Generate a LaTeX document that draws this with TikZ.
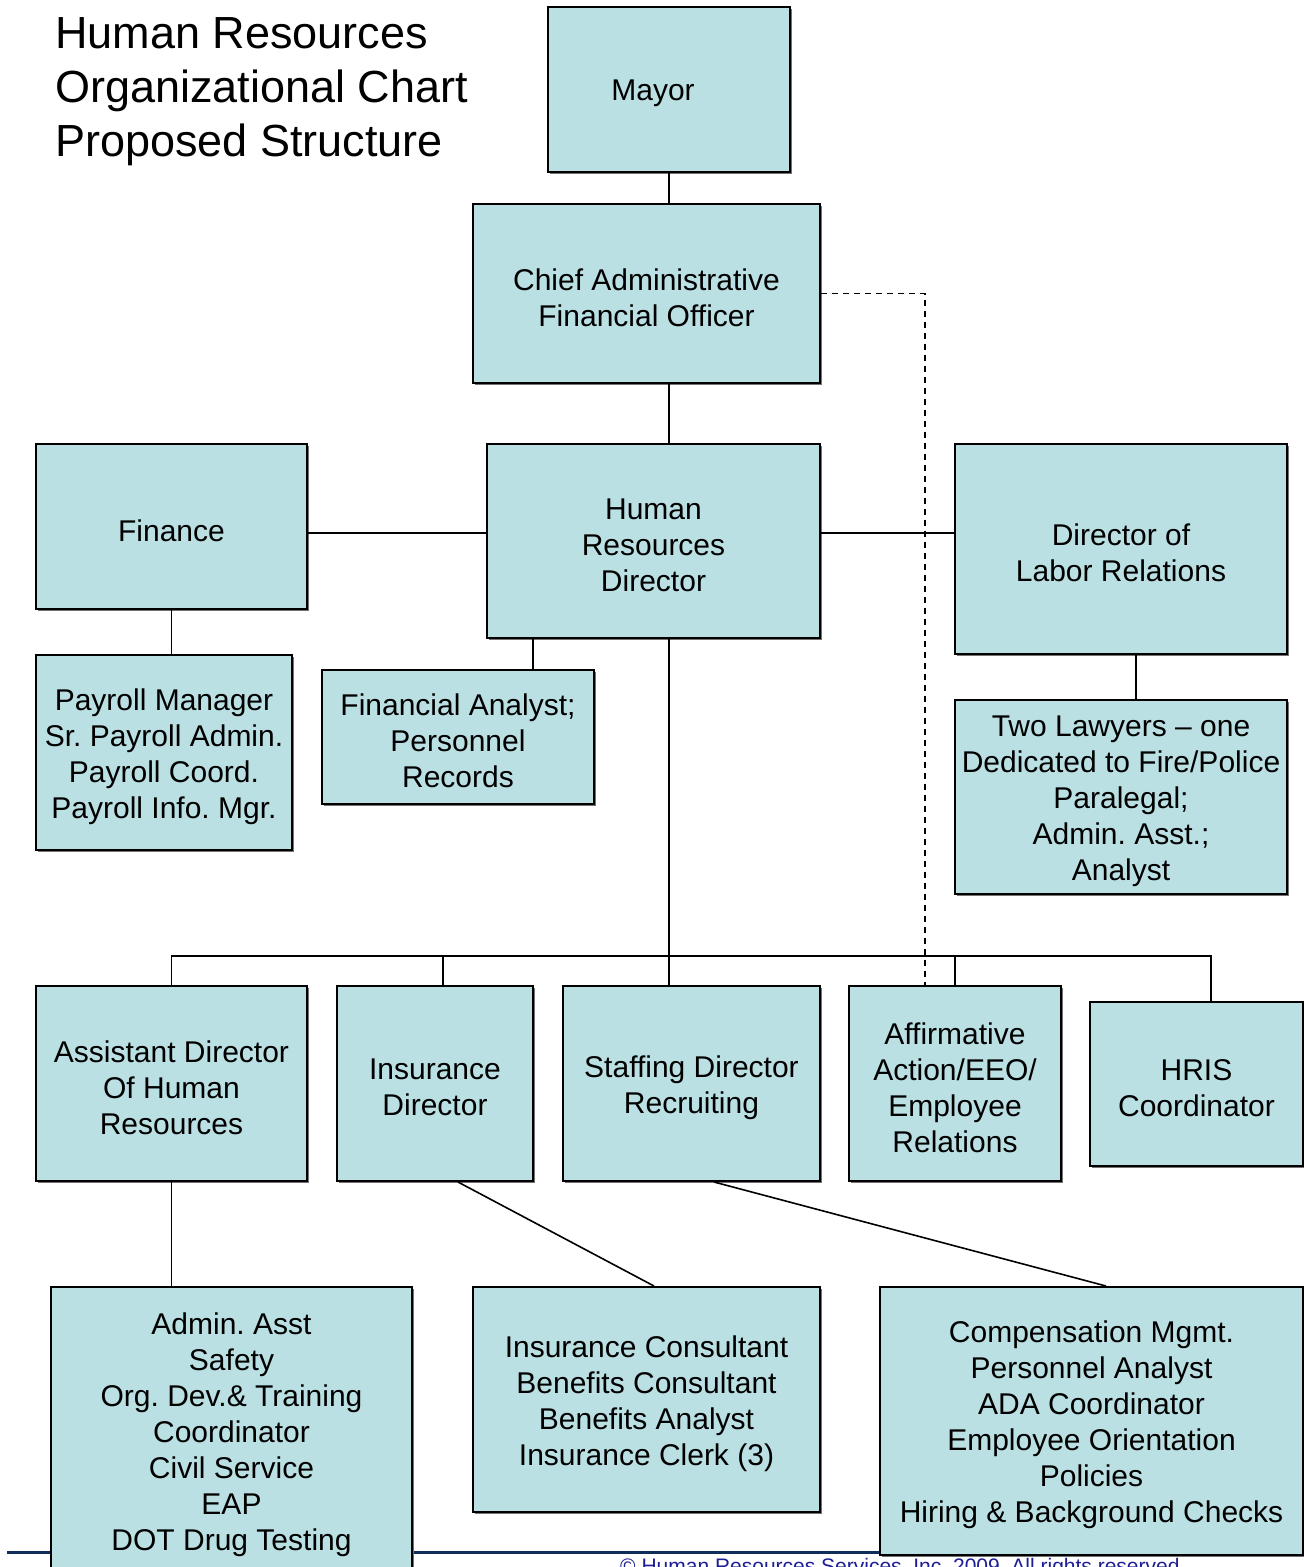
\documentclass[tikz,border=0pt]{standalone}
\usepackage{fontspec}
\setmainfont{Liberation Sans}
\usetikzlibrary{calc,shadows}
\definecolor{boxfill}{RGB}{186,224,227}
\definecolor{rulenavy}{RGB}{16,46,92}
\definecolor{notecol}{RGB}{30,30,150}
\frenchspacing
\begin{document}
\begin{tikzpicture}[x=1pt,y=-1pt,
  orgbox/.style={draw=black, line width=2pt, fill=boxfill, rectangle,
    inner sep=0pt,
    general shadow={fill=black!55, shadow xshift=1.5pt, shadow yshift=-1.5pt}},
  boxtext/.style={inner sep=0pt, align=center, yshift=-4pt,
    font=\fontsize{30}{36}\selectfont},
  link/.style={draw=black, line width=1.6pt},
  dotlink/.style={draw=black, line width=1.6pt, dashed, dash pattern=on 6pt off 5pt}]
\useasboundingbox (0,0) rectangle (1304,1567);
\clip (0,0) rectangle (1304,1567);
\fill[white] (0,0) rectangle (1304,1567);

% footer rule and copyright line
\draw[rulenavy, line width=3pt] (7,1552) -- (1304,1552);
\node[anchor=base west, inner sep=0pt, text=notecol, font=\fontsize{21}{25}\selectfont]
  (copy) at (620,1573) {\textcopyright\ Human Resources Services, Inc. 2009. All rights reserved};

% title
\node[anchor=north west, inner sep=0pt, align=left, font=\fontsize{45}{54}\selectfont]
  (title) at (55,17) {Human Resources\\Organizational Chart\\Proposed Structure};

% helper coordinates
\coordinate (spine) at (669,0);
\coordinate (midy) at (0,533);
\coordinate (bus) at (669,956);
\coordinate (fax) at (533,0);
\coordinate (labx) at (1136,0);
\coordinate (insx) at (443,0);
\coordinate (hrisx) at (1211,0);
\coordinate (dashx) at (925,0);

% boxes
\node[orgbox, minimum width=242, minimum height=165] (mayor) at (669,89.5) {};
\node[orgbox, minimum width=347, minimum height=179] (cafo) at (646.5,293.5) {};
\node[orgbox, minimum width=333, minimum height=194] (hrd) at (653.5,541) {};
\node[orgbox, minimum width=271, minimum height=165] (finance) at (171.5,526.5) {};
\node[orgbox, minimum width=332, minimum height=210] (labor) at (1121,549) {};
\node[orgbox, minimum width=256, minimum height=195] (payroll) at (164,752.5) {};
\node[orgbox, minimum width=272, minimum height=134] (fa) at (458,737) {};
\node[orgbox, minimum width=332, minimum height=194] (lawyers) at (1121,797) {};
\node[orgbox, minimum width=271, minimum height=195] (asst) at (171.5,1083.5) {};
\node[orgbox, minimum width=196, minimum height=195] (ins) at (435,1083.5) {};
\node[orgbox, minimum width=257, minimum height=195] (staff) at (691.5,1083.5) {};
\node[orgbox, minimum width=212, minimum height=195] (affirm) at (955,1083.5) {};
\node[orgbox, minimum width=213, minimum height=164] (hris) at (1196.5,1084) {};
\node[orgbox, minimum width=361, minimum height=288] (admin) at (231.5,1431) {};
\node[orgbox, minimum width=347, minimum height=225] (inscons) at (646.5,1399.5) {};
\node[orgbox, minimum width=423, minimum height=268] (comp) at (1091.5,1421) {};

% box captions
\node[boxtext] (mayorT) at ($(mayor)+(-16,0)$) {Mayor};
\node[boxtext] (cafoT) at (cafo) {Chief Administrative\\Financial Officer};
\node[boxtext] (hrdT) at (hrd) {Human\\Resources\\Director};
\node[boxtext] (financeT) at (finance) {Finance};
\node[boxtext] (laborT) at (labor) {Director of\\Labor Relations};
\node[boxtext] (payrollT) at (payroll) {Payroll Manager\\Sr. Payroll Admin.\\Payroll Coord.\\Payroll Info. Mgr.};
\node[boxtext] (faT) at (fa) {Financial Analyst;\\Personnel\\Records};
\node[boxtext] (lawyersT) at (lawyers) {Two Lawyers -- one\\Dedicated to Fire/Police\\Paralegal;\\Admin. Asst.;\\Analyst};
\node[boxtext] (asstT) at (asst) {Assistant Director\\Of Human\\Resources};
\node[boxtext] (insT) at (ins) {Insurance\\Director};
\node[boxtext] (staffT) at (staff) {Staffing Director\\Recruiting};
\node[boxtext] (affirmT) at (affirm) {Affirmative\\Action/EEO/\\Employee\\Relations};
\node[boxtext] (hrisT) at (hris) {HRIS\\Coordinator};
\node[boxtext] (adminT) at (admin) {Admin. Asst\\Safety\\Org. Dev.\& Training\\Coordinator\\Civil Service\\EAP\\DOT Drug Testing};
\node[boxtext] (insconsT) at (inscons) {Insurance Consultant\\Benefits Consultant\\Benefits Analyst\\Insurance Clerk (3)};
\node[boxtext] (compT) at (comp) {Compensation Mgmt.\\Personnel Analyst\\ADA Coordinator\\Employee Orientation\\Policies\\Hiring \& Background Checks};

% reporting lines
\path[link] (mayor.south -| spine) -- (cafo.north -| spine);
\path[link] (cafo.south -| spine) -- (hrd.north -| spine);
\path[link] (finance.east |- midy) -- (hrd.west |- midy);
\path[link] (hrd.east |- midy) -- (labor.west |- midy);
\path[link] (finance.south) -- (finance.south |- payroll.north);
\path[link] (hrd.south -| fax) -- (fa.north -| fax);
\path[link] (labor.south -| labx) -- (lawyers.north -| labx);
\path[link] (hrd.south -| spine) -- (staff.north -| spine);
\path[link] (asst.north) |- (bus) -| (hris.north -| hrisx);
\path[link] (ins.north -| insx) -- (bus -| insx);
\path[link] (affirm.north) -- (bus -| affirm.north);
\path[link] (asst.south) -- (asst.south |- admin.north);
\path[link] ($(ins.south)+(23,0)$) -- ($(inscons.north)+(7.5,0)$);
\path[link] ($(staff.south)+(22.5,0)$) -- ($(comp.north)+(14.5,0)$);
\path[dotlink] (cafo.east) -| (dashx |- affirm.north);
\end{tikzpicture}
\end{document}
